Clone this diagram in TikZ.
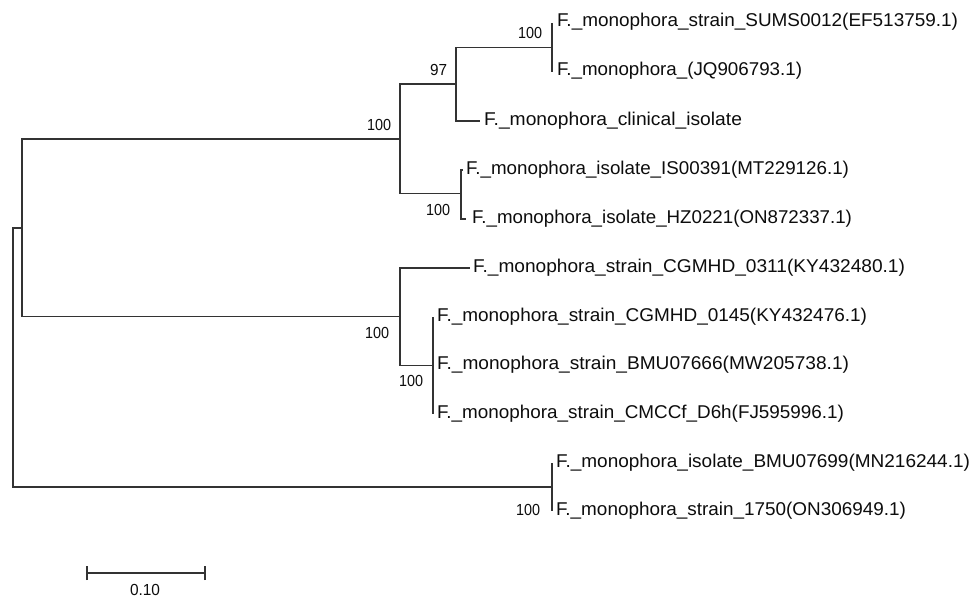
\documentclass[tikz,border=0pt]{standalone}
\usepackage{fontspec}
\setmainfont{Liberation Sans}
\usepackage{graphicx}
\tikzset{
  branch/.style={draw=black!80, line width=1.4pt, line join=miter},
  leaflbl/.style={anchor=base west, inner sep=0pt, outer sep=0pt, text=black!95,
    font=\fontsize{18.5}{20}\selectfont},
  bootlbl/.style={anchor=base east, inner sep=0pt, outer sep=0pt, text=black!95,
    font=\fontsize{16}{18}\selectfont},
}
\newcommand{\lbl}[2]{\resizebox{#1pt}{\height}{#2}}
\begin{document}
\begin{tikzpicture}[x=1pt,y=-1pt]
\useasboundingbox[fill=white] (0,0) rectangle (974,599);
% internal nodes
\coordinate (r) at (13,357.5);
\coordinate (u) at (22,228);
\coordinate (A) at (400,139);
\coordinate (n97) at (456,84);
\coordinate (s100) at (552,47.5);
\coordinate (nIH) at (461,193.5);
\coordinate (B) at (400,316.5);
\coordinate (C) at (433,365.5);
\coordinate (D) at (552,487);
% tips
\coordinate (t1) at (552,23);
\coordinate (t2) at (552,72);
\coordinate (t3) at (480,121);
\coordinate (t4) at (463,170);
\coordinate (t5) at (466,219);
\coordinate (t6) at (470,268);
\coordinate (t7) at (433,317);
\coordinate (t8) at (433,365.5);
\coordinate (t9) at (433,414);
\coordinate (t10) at (552,463);
\coordinate (t11) at (552,511);
% branches
\draw[branch] (r) |- (u);
\draw[branch] (r) |- (D);
\draw[branch] (u) |- (A);
\draw[branch] (u) |- (B);
\draw[branch] (A) |- (n97);
\draw[branch] (A) |- (nIH);
\draw[branch] (n97) |- (s100);
\draw[branch] (n97) |- (t3);
\draw[branch] (s100) |- (t1);
\draw[branch] (s100) |- (t2);
\draw[branch] (nIH) |- (t4);
\draw[branch] (nIH) |- (t5);
\draw[branch] (B) |- (t6);
\draw[branch] (B) |- (C);
\draw[branch] (C) |- (t7);
\draw[branch] (C) |- (t9);
\draw[branch] (D) |- (t10);
\draw[branch] (D) |- (t11);
% leaf labels
\node[leaflbl] (l1) at (557,27) {\lbl{401}{F.\_monophora\_strain\_SUMS0012(EF513759.1)}};
\node[leaflbl] (l2) at (557,76) {\lbl{245}{F.\_monophora\_(JQ906793.1)}};
\node[leaflbl] (l3) at (484,125) {\lbl{258}{F.\_monophora\_clinical\_isolate}};
\node[leaflbl] (l4) at (466,174) {\lbl{383}{F.\_monophora\_isolate\_IS00391(MT229126.1)}};
\node[leaflbl] (l5) at (472,223) {\lbl{380}{F.\_monophora\_isolate\_HZ0221(ON872337.1)}};
\node[leaflbl] (l6) at (473,272) {\lbl{432}{F.\_monophora\_strain\_CGMHD\_0311(KY432480.1)}};
\node[leaflbl] (l7) at (437,321) {\lbl{430}{F.\_monophora\_strain\_CGMHD\_0145(KY432476.1)}};
\node[leaflbl] (l8) at (437,369.5) {\lbl{412}{F.\_monophora\_strain\_BMU07666(MW205738.1)}};
\node[leaflbl] (l9) at (437,418) {\lbl{407}{F.\_monophora\_strain\_CMCCf\_D6h(FJ595996.1)}};
\node[leaflbl] (l10) at (556,467) {\lbl{414}{F.\_monophora\_isolate\_BMU07699(MN216244.1)}};
\node[leaflbl] (l11) at (556,515) {\lbl{350}{F.\_monophora\_strain\_1750(ON306949.1)}};
% bootstrap labels
\node[bootlbl] (b1) at (542,39) {\lbl{24}{100}};
\node[bootlbl] (b2) at (447,76) {\lbl{17}{97}};
\node[bootlbl] (b3) at (391,131) {\lbl{24}{100}};
\node[bootlbl] (b4) at (450,215) {\lbl{24}{100}};
\node[bootlbl] (b5) at (389,338) {\lbl{24}{100}};
\node[bootlbl] (b6) at (423,386) {\lbl{24}{100}};
\node[bootlbl] (b7) at (540,515) {\lbl{24}{100}};
% scale bar
\coordinate (sb1) at (87,573);
\coordinate (sb2) at (205,573);
\draw[branch] (sb1) -- (sb2);
\draw[branch] ([yshift=-7pt]sb1) -- ([yshift=7pt]sb1);
\draw[branch] ([yshift=-7pt]sb2) -- ([yshift=7pt]sb2);
\node[anchor=base, inner sep=0pt, text=black!95, font=\fontsize{16}{18}\selectfont] (sbl) at (145,595) {\lbl{30}{0.10}};
\end{tikzpicture}
\end{document}
